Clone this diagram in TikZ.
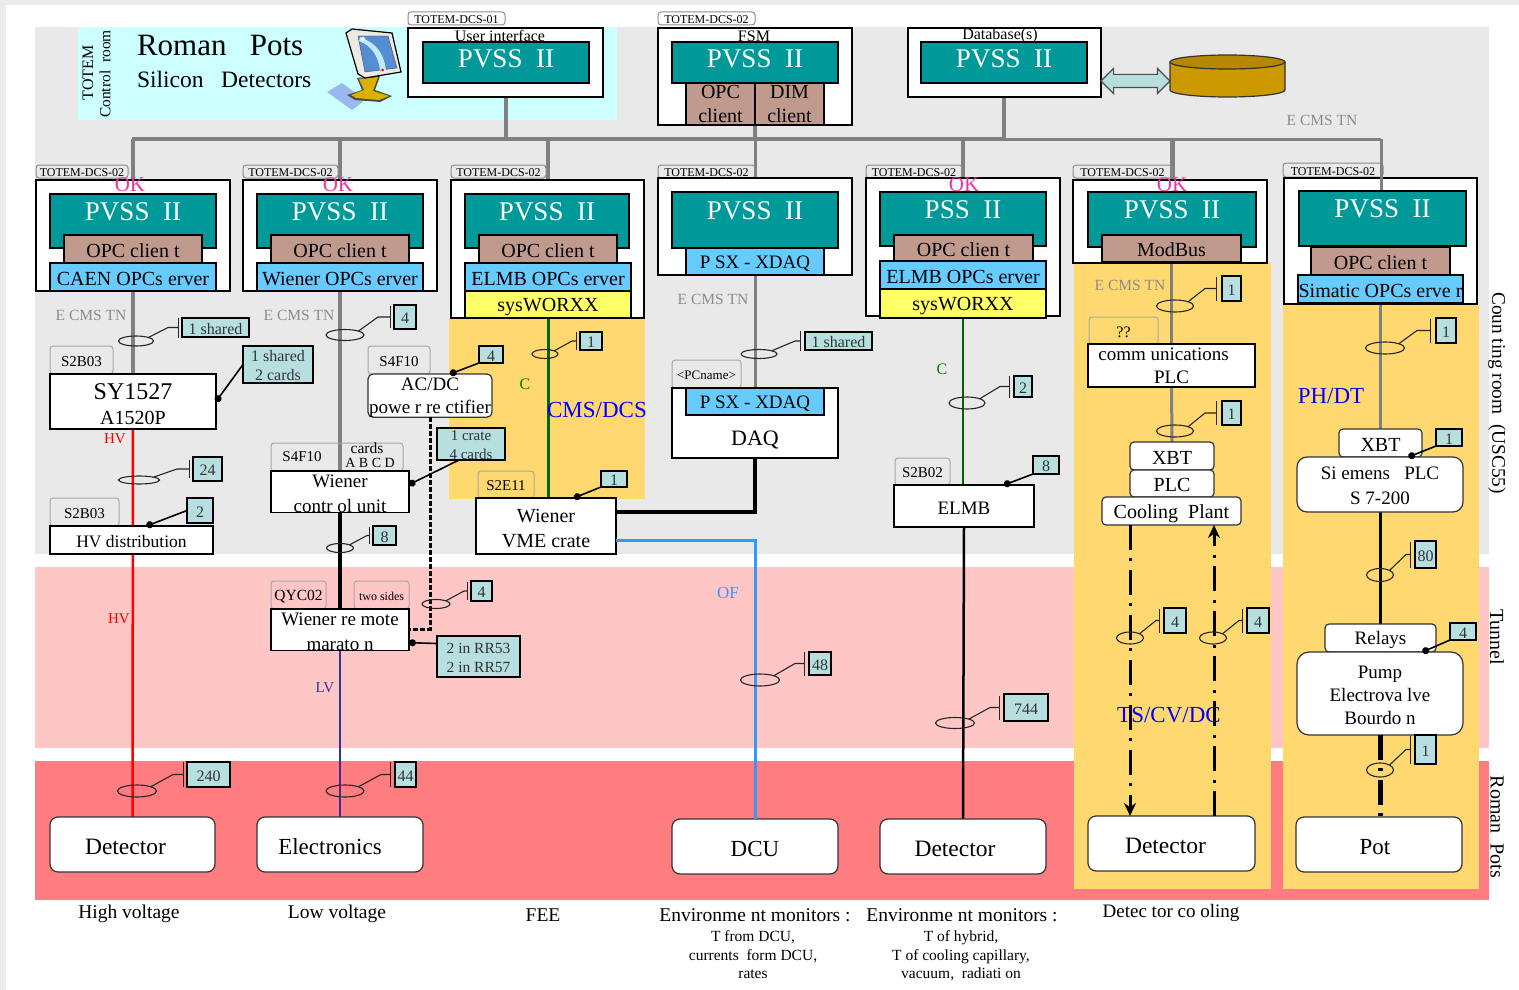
\documentclass[tikz,border=0pt]{standalone}
\usepackage{fontspec}
\setmainfont{Liberation Serif}
\usepackage{xcolor}
\usetikzlibrary{shapes.geometric, shapes.arrows, arrows.meta, positioning, calc, backgrounds}

\definecolor{cgrey}{HTML}{E9E9E9}
\definecolor{cpink}{HTML}{FFC6C6}
\definecolor{cred}{HTML}{FF7C80}
\definecolor{ccyan}{HTML}{CCFFFF}
\definecolor{cgold}{HTML}{FFD96F}
\definecolor{cteal}{HTML}{009999}
\definecolor{cbrown}{HTML}{C19A8E}
\definecolor{csky}{HTML}{66CCFF}
\definecolor{cyell}{HTML}{FFFF66}
\definecolor{ccnt}{HTML}{B7DFE0}
\definecolor{cfibre}{HTML}{3399FF}
\definecolor{clv}{HTML}{333399}
\definecolor{cgreen}{HTML}{006600}
\definecolor{cdisk}{HTML}{CC9900}
\definecolor{cdiskt}{HTML}{B58800}
\definecolor{cshade}{HTML}{99B8F0}
\newcommand{\fsz}[2]{\fontsize{#1}{#2}\selectfont}
\newcommand{\lowa}{\rule{0pt}{.85em}}
\newcommand{\lowb}{\rule{0pt}{.95em}}

\begin{document}
\begin{tikzpicture}[
        x=1pt, y=-1pt,
        wh/.style 2 args={minimum width=#1pt, minimum height=#2pt},
        box/.style={rectangle, draw=black, line width=1.2pt, inner sep=0pt, outer sep=0pt, anchor=north west, align=center, execute at begin node={\lowa}},
        card/.style={box, fill=white},
        rnd/.style={box, fill=white, rounded corners=8pt, draw=black!80},
        pvss/.style={box, fill=cteal, text=white, font=\fsz{27}{30}, text height=26pt, text depth=28pt},
        opc/.style={box, fill=cbrown, font=\fsz{20}{24}},
        srv/.style={box, fill=csky, font=\fsz{20}{24}},
        sysw/.style={box, fill=cyell, font=\fsz{20}{24}, execute at begin node={\lowb}},
        tag/.style={box, draw=black!35, rounded corners=3pt, line width=1pt, font=\fsz{15}{17}},
        dcs/.style={tag, draw=black!45, font=\fsz{12}{13}},
        cnt/.style={box, fill=ccnt, font=\fsz{16}{19}, text=black!80},
        txt/.style={inner sep=0pt, outer sep=0pt, align=center},
        blu/.style={txt, text=blue, font=\fsz{23}{25}},
        oktxt/.style={txt, text=magenta!80!white, font=\fsz{21}{22}},
        ecms/.style={txt, text=black!45, font=\fsz{15.5}{17}},
        ring/.style={ellipse, draw=black!85, line width=1.1pt, inner sep=0pt, outer sep=0pt},
        lead/.style={-{Bar[width=#1]}, draw=black!85, line width=1.1pt},
        dlead/.style={{Circle[length=7pt]}-, line width=1.6pt},
        bus/.style={draw=black!50, line width=4pt},
        net/.style={draw=black!50, line width=3.5pt},
        blk/.style={draw=black, line width=4pt},
        dashdot/.style={draw=black, line width=3pt, dash pattern=on 25pt off 8pt on 3pt off 9pt}
    ]
        \useasboundingbox (0,0) rectangle (1519,990);

        % Zones
        \begin{scope}[on background layer]
        \fill[black!8] (0,0) rectangle (1519,5);
        \fill[black!8] (0,0) rectangle (6,990);
        \fill[cgrey] (35,27) rectangle (1489,554);
        \fill[cpink] (35,567) rectangle (1489,748);
        \fill[cred] (35,761) rectangle (1489,900);
        \fill[ccyan] (78,27) rectangle (617,120);
        \fill[cgold] (449,318) rectangle (645,499);
        \fill[cgold] (1074,262) rectangle (1271,889);
        \fill[cgold] (1283,304) rectangle (1479,889);
        \end{scope}

        % Title
        \node[txt, rotate=90, font=\fsz{16}{18}] (ttotem) at (88,73) {TOTEM};
        \node[txt, rotate=90, font=\fsz{15.5}{17}] (tctrl) at (105,74) {Control\ \ room};
        \node[txt, anchor=west, font=\fsz{31}{33}] (troman) at (137,46) {Roman\ \ \ Pots};
        \node[txt, anchor=west, font=\fsz{23.5}{25}] (tsilicon) at (137,79) {Silicon\ \ \ Detectors};

        % Monitor
        \fill[cshade] (327,92) -- (342,83) -- (365,100) -- (352,110) -- cycle;
        \fill[black!80!yellow] (357,78) -- (380,76) -- (375,90) -- (392,96) -- (380,102) -- (355,100) -- (347,95) -- (362,90) -- cycle;
        \fill[cdisk!75!yellow] (359,79) -- (378,77) -- (373,91) -- (389,96) -- (379,100) -- (356,98) -- (351,95) -- (364,90) -- cycle;
        \filldraw[fill=yellow!25!black!12!white, draw=black, line width=1.2pt] (346,33) -- (352,29) -- (392,33) -- (401,72) -- (365,78) -- (358,74) -- cycle;
        \filldraw[fill=cyan!50!blue!70!white, draw=black!70] (358,36) -- (388,36) -- (397,68) -- (365,72) -- cycle;
        \fill[cyan!25!white] (360,37) .. controls (378,44) and (384,55) .. (386,70) -- (380,70) .. controls (378,56) and (372,46) .. (359,41) -- cycle;
        \fill[white] (363,39) circle (2);
        \fill[red] (382.5,70) circle (1.5);

        % Top row
        \node[dcs, wh={97}{13}] (t01) at (408,12) {TOTEM-DCS-01};
        \node[card, wh={195}{69}] (ui) at (408,28) {};
        \node[txt, font=\fsz{16}{19}] (tui) at (500,36) {User interface};
        \node[pvss, wh={166}{41}, text depth=15pt] (pui) at (423,42) {PVSS\ \ II};

        \node[dcs, wh={97}{13}] (t02) at (658,12) {TOTEM-DCS-02};
        \node[card, wh={194}{97}] (fsm) at (658,28) {};
        \node[txt, font=\fsz{16}{19}] (tfsm) at (754,36) {FSM};
        \node[pvss, wh={166}{41}, text depth=15pt] (pfsm) at (672,42) {PVSS\ \ II};
        \node[opc, wh={69}{42}] (oc) at (686,83) {OPC\\client};
        \node[opc, wh={69}{42}] (dc) at (755,83) {DIM\\client};

        \node[card, wh={193}{69}] (dbs) at (908,28) {};
        \node[txt, font=\fsz{16}{19}] (tdbs) at (1000,36) {Database(s)};
        \node[pvss, wh={166}{41}, text depth=15pt] (pdb) at (921,42) {PVSS\ \ II};
        \node[double arrow, draw=black!70, line width=1.2pt, fill=ccnt, inner sep=6pt, minimum width=25pt, minimum height=69pt, double arrow head extend=6pt] (dbarrow) at (1135.5,81) {};

        % Disk
        \filldraw[fill=cdisk, draw=black!80, line width=1.2pt] (1170,62) -- (1170,90) arc[start angle=180, end angle=360, x radius=57.5pt, y radius=7pt] -- (1285,62);
        \filldraw[fill=cdiskt, draw=black!80, line width=1.2pt] (1227.5,62) ellipse [x radius=57.5pt, y radius=7pt];

        % Crate columns
        \node[dcs, wh={92}{13}] (t1) at (36,165) {TOTEM-DCS-02};
        \node[card, wh={194}{111}] (w1) at (36,180) {};
        \node[pvss, wh={166}{54}] (p1) at (50,194) {PVSS\ \ II};
        \node[opc, wh={138}{28}] (c1) at (64,235) {OPC clien t};
        \node[srv, wh={166}{28}] (s1) at (50,263) {CAEN OPCs erver};

        \node[dcs, wh={95}{13}] (t2) at (243,165) {TOTEM-DCS-02};
        \node[card, wh={194}{111}] (w2) at (243,180) {};
        \node[pvss, wh={166}{54}] (p2) at (257,194) {PVSS\ \ II};
        \node[opc, wh={138}{28}] (c2) at (271,235) {OPC clien t};
        \node[srv, wh={166}{28}] (s2) at (257,263) {Wiener OPCs erver};

        \node[dcs, wh={95}{13}] (t3) at (451,165) {TOTEM-DCS-02};
        \node[card, wh={193}{138}] (w3) at (451,180) {};
        \node[pvss, wh={164}{54}] (p3) at (465,194) {PVSS\ \ II};
        \node[opc, wh={138}{28}] (c3) at (479,235) {OPC clien t};
        \node[srv, wh={166}{28}] (s3) at (465,263) {ELMB OPCs erver};
        \node[sysw, wh={166}{27}] (y3) at (465,291) {sysWORXX};

        \node[dcs, wh={97}{13}] (t4) at (658,165) {TOTEM-DCS-02};
        \node[card, wh={194}{97}] (w4) at (658,178) {};
        \node[pvss, wh={166}{56}] (p4) at (672,192) {PVSS\ \ II};
        \node[srv, wh={138}{27}, font=\fsz{19}{22}, execute at begin node={\lowb}] (s4) at (686,248) {P SX - XDAQ};

        \node[dcs, wh={96}{13}] (t5) at (866,165) {TOTEM-DCS-02};
        \node[card, wh={194}{138}] (w5) at (866,178) {};
        \node[pvss, wh={166}{54}] (p5) at (880,192) {PSS\ \ II};
        \node[opc, wh={139}{26}] (c5) at (894,235) {OPC clien t};
        \node[srv, wh={166}{28}] (s5) at (880,261) {ELMB OPCs erver};
        \node[sysw, wh={166}{29}] (y5) at (880,289) {sysWORXX};

        \node[dcs, wh={99}{13}] (t6) at (1073,165) {TOTEM-DCS-02};
        \node[card, wh={194}{83}] (w6) at (1073,180) {};
        \node[pvss, wh={168}{55}] (p6) at (1088,192) {PVSS\ \ II};
        \node[opc, wh={139}{27}] (c6) at (1102,235) {ModBus};

        \node[dcs, wh={100}{14}] (t7) at (1283,163) {TOTEM-DCS-02};
        \node[card, wh={193}{126}] (w7) at (1284,178) {};
        \coordinate (busl) at (132,139);
        \coordinate (busr) at (1381,139);
        \draw[net, line width=3pt] (busr) -- (busr |- 0,192);
        \node[pvss, wh={167}{55}] (p7) at (1299,191) {PVSS\ \ II};
        \node[opc, wh={139}{28}] (c7) at (1311,247) {OPC clien t};
        \node[srv, wh={165}{28}] (s7) at (1298,275) {Simatic OPCs erve r};

        % OK marks
        \node[oktxt] (ok1) at (130,185) {OK};
        \node[oktxt] (ok2) at (338,185) {OK};
        \node[oktxt] (ok5) at (964,185) {OK};
        \node[oktxt] (ok6) at (1172,185) {OK};

        % High voltage
        \node[tag, wh={63}{28}] (a1) at (50,346) {S2B03};
        \node[card, wh={166}{55}, font=\fsz{24}{25}] (sy) at (50,374) {\lowa SY1527\\{\fsz{20}{24}A1520P}};
        \node[tag, wh={69}{28}] (a2) at (50,498) {S2B03};
        \node[card, wh={163}{28}, font=\fsz{17.5}{19}] (hvd) at (50,526) {HV distribution};
        \node[rnd, wh={165}{55}, font=\fsz{23.5}{25}] (det1) at (50,817) {Detector\kern14pt};

        % Low voltage
        \node[tag, wh={62}{28}] (a3) at (368,346) {S4F10};
        \node[rnd, wh={124}{42}, font=\fsz{19}{23}, rounded corners=5pt] (acdc) at (368,374) {\lowa AC/DC\\powe r re ctifier};
        \node[tag, wh={132}{28}] (a4) at (271,443) {};
        \node[txt, font=\fsz{15}{17}] (ta4) at (302,457) {S4F10};
        \node[txt, font=\fsz{15.5}{17}] (ca4) at (367,448) {cards};
        \node[txt, font=\fsz{14}{16}] (da4) at (370,463) {A B C D};
        \node[card, wh={138}{41}, font=\fsz{19}{25}] (wcu) at (271,471) {\lowa Wiener\\contr ol unit};
        \node[tag, wh={55}{28}, font=\fsz{15.5}{17}] (a5) at (271,581) {QYC02};
        \node[tag, wh={55}{28}, font=\fsz{12}{14}] (a6) at (354,581) {two sides};
        \node[card, wh={138}{41}, font=\fsz{19}{25}] (wrm) at (271,609) {\lowa Wiener re mote\\marato n};
        \node[rnd, wh={166}{55}, font=\fsz{23}{25}] (ele) at (257,817) {Electronics\kern20pt};

        % FEE
        \node[tag, wh={56}{27}] (a7) at (478,471) {S2E11};
        \node[card, wh={140}{56}, font=\fsz{20}{25}] (vme) at (476,498) {\lowb Wiener\\VME crate};

        % DAQ
        \node[tag, wh={69}{28}, font=\fsz{13}{15}] (a8) at (672,360) {<PCname>};
        \node[card, wh={166}{70}, font=\fsz{22}{24}, text height=48pt, text depth=4pt] (daq) at (672,388) {DAQ};
        \node[srv, wh={138}{27}, font=\fsz{19}{22}, execute at begin node={\lowb}] (sdaq) at (686,388) {P SX - XDAQ};
        \node[rnd, wh={166}{55}, font=\fsz{23}{25}] (dcu) at (672,819) {DCU};

        % ELMB
        \node[tag, wh={55}{27}] (a9) at (895,458) {S2B02};
        \node[card, wh={140}{42}, font=\fsz{19}{21}] (elmb) at (894,485) {ELMB};
        \node[rnd, wh={166}{55}, font=\fsz{23.5}{25}] (det2) at (880,819) {Detector\kern16pt};

        % Cooling
        \node[tag, wh={69}{27}, font=\fsz{16}{18}] (a10) at (1089,317) {??};
        \node[card, wh={167}{43}, font=\fsz{19}{23}] (comm) at (1088,344) {comm unications\kern16pt\\PLC};
        \node[rnd, wh={84}{28}, font=\fsz{20}{22}, rounded corners=4pt] (xbt1) at (1130,442) {XBT};
        \node[rnd, wh={84}{27}, font=\fsz{20}{22}, rounded corners=4pt] (plc) at (1130,470) {PLC};
        \node[rnd, wh={139}{28}, font=\fsz{20}{22}, rounded corners=4pt, execute at begin node={\lowb}] (cool) at (1102,497) {Cooling\ \ Plant};
        \node[rnd, wh={167}{55}, font=\fsz{23.5}{25}] (det3) at (1088,816) {Detector\kern12pt};

        % Pot
        \node[rnd, wh={83}{28}, font=\fsz{20}{22}, rounded corners=4pt] (xbt2) at (1339,429) {XBT};
        \node[rnd, wh={111}{28}, font=\fsz{19}{21}, rounded corners=4pt, execute at begin node={\lowb}] (rel) at (1325,624) {Relays};
        \node[rnd, wh={166}{55}, font=\fsz{19}{25}, rounded corners=10pt] (sie) at (1297,457) {\lowa Si emens\ \ \ PLC\\S 7-200};
        \node[rnd, wh={166}{83}, font=\fsz{19}{23}, rounded corners=12pt] (pmp) at (1297,652) {\lowa Pump\\Electrova lve\\Bourdo n};
        \node[rnd, wh={166}{55}, font=\fsz{23}{25}] (pot) at (1296,817) {Pot\kern8pt};

        % Bus and network lines
        \begin{scope}[on background layer]
        \draw[bus] (busl) -- (pdb.south |- busl);
        \draw[net, line width=3pt] (pdb.south |- busl) -- (busr);
        \draw[bus] (ui.south) -- (ui.south |- busl);
        \draw[bus] (dc.south west) -- (dc.south west |- busl);
        \draw[bus] (pdb.south) -- (pdb.south |- busl);
        \draw[bus] (w1.north) -- (w1.north |- busl);
        \draw[bus] (w2.north) -- (w2.north |- busl);
        \draw[bus] (w3.north) -- (w3.north |- busl);
        \draw[net, line width=3pt] (w4.north) -- (w4.north |- busl);
        \draw[bus] (w5.north) -- (w5.north |- busl);
        \draw[bus, line width=5pt] (1172,180) -- (1172,139);
        \draw[net] (s1.south) -- (sy.north);
        \draw[net] (s2.south) -- (wcu.north);
        \draw[net, line width=3pt] (s4.south) -- (sdaq.north);
        \draw[net, line width=3pt] (c6.south) -- (comm.north);
        \draw[net, line width=3pt] (comm.south) -- (xbt1.north);
        \draw[net] (s7.south -| xbt2.north) -- (xbt2.north);
        \draw[draw=red, line width=2.5pt] (sy.south) -- (det1.north);
        \draw[blk] (wcu.south) -- (wrm.north);
        \draw[draw=clv, line width=2.2pt] (wrm.south) -- (ele.north);
        \draw[draw=cgreen, line width=3pt] (y3.south) -- (y3.south |- vme.north);
        \draw[draw=cgreen, line width=2.2pt] (y5.south) -- (y5.south |- elmb.north);
        \draw[draw=black, line width=2.5pt] (elmb.south) -- (det2.north);
        \draw[draw=black, line width=3pt] (sie.south -| xbt2.south) -- (rel.north);
        \end{scope}
        \draw[blk] ([yshift=14pt]vme.east) -| (daq.south);
        \draw[draw=cfibre, line width=3pt] ([yshift=-14pt]vme.east) -| (dcu.north);
        \draw[line width=3pt, dash pattern=on 5pt off 2pt] (acdc.south) |- (wrm.east);
        \draw[dashdot, -{Stealth[length=13pt, width=12pt]}] (xbt1.south west |- cool.south) -- (xbt1.south west |- det3.north);
        \draw[dashdot, -{Stealth[length=13pt, width=12pt]}] (xbt1.south east |- det3.north) -- (xbt1.south east |- cool.south);
        \draw[dashdot, line width=5pt] (pmp.south -| xbt2.south) -- (pot.north -| xbt2.south);

        % Line labels
        \node[ecms] (e1) at (91,315) {E CMS TN};
        \node[ecms] (e2) at (299,315) {E CMS TN};
        \node[ecms] (e4) at (713,299) {E CMS TN};
        \node[ecms] (e6) at (1130,285) {E CMS TN};
        \node[ecms] (e0) at (1322,120) {E CMS TN};
        \node[txt, text=red, font=\fsz{15}{17}] (hv1) at (115,439) {HV};
        \node[txt, text=red, font=\fsz{15}{17}] (hv2) at (119,619) {HV};
        \node[txt, text=clv, font=\fsz{15}{17}] (lv) at (325,688) {LV};
        \node[txt, text=cfibre, font=\fsz{17}{19}] (of) at (728,593) {OF};
        \node[txt, text=green!50!black, font=\fsz{16}{18}] (cc3) at (525,384) {C};
        \node[txt, text=green!50!black, font=\fsz{16}{18}] (cc5) at (942,369) {C};
        \node[blu] (cms) at (597,410) {CMS/DCS};
        \node[blu] (phdt) at (1331,396) {PH/DT};
        \node[blu] (tscv) at (1169,715) {TS/CV/DC};

        % Cable counts
        \node[ring, wh={35}{10}] (r1) at (136,341) {};
        \node[cnt, wh={67}{19}] (n1) at (182,318) {1 shared};
        \draw[lead=20pt] (r1.north east) -- ([xshift=-14pt]n1.west) -- ([xshift=-3pt]n1.west);

        \node[ring, wh={38}{11}] (r2) at (345,335) {};
        \node[cnt, wh={22}{24}] (n2) at (394,305) {4};
        \draw[lead=22pt] (r2.north east) -- ([xshift=-16pt]n2.west) -- ([xshift=-3pt]n2.west);

        \node[ring, wh={41}{8}] (r3) at (139,480) {};
        \node[cnt, wh={29}{24}] (n3) at (193,457) {24};
        \draw[lead=18pt] (r3.north east) -- ([xshift=-16pt]n3.west) -- ([xshift=-3pt]n3.west);

        \node[ring, wh={27}{9}] (r4) at (340,548) {};
        \node[cnt, wh={23}{19}] (n4) at (373,526) {8};
        \draw[lead=17pt] (r4.north east) -- ([xshift=-6pt]n4.west) -- ([xshift=-3pt]n4.west);

        \node[ring, wh={28}{9}] (r5) at (436,604) {};
        \node[cnt, wh={21}{20}] (n5) at (471,581) {4};
        \draw[lead=18pt] (r5.north east) -- ([xshift=-7pt]n5.west) -- ([xshift=-3pt]n5.west);

        \node[ring, wh={26}{9}] (r6) at (545,354) {};
        \node[cnt, wh={22}{18}] (n6) at (580,332) {1};
        \draw[lead=18pt] (r6.north east) -- ([xshift=-8pt]n6.west) -- ([xshift=-3pt]n6.west);

        \node[ring, wh={36}{9}] (r7) at (759,354) {};
        \node[cnt, wh={67}{18}] (n7) at (805,332) {1 shared};
        \draw[lead=20pt] (r7.north east) -- ([xshift=-10pt]n7.west) -- ([xshift=-4pt]n7.west);

        \node[ring, wh={39}{12}] (r8) at (760,680) {};
        \node[cnt, wh={22}{23}] (n8) at (809,652) {48};
        \draw[lead=24pt] (r8.north east) -- ([xshift=-14pt]n8.west) -- ([xshift=-4pt]n8.west);

        \node[ring, wh={36}{12}] (r9) at (967,403) {};
        \node[cnt, wh={18}{21}] (n9) at (1014,376) {2};
        \draw[lead=22pt] (r9.north east) -- ([xshift=-14pt]n9.west) -- ([xshift=-4pt]n9.west);

        \node[ring, wh={39}{11}] (r10) at (955,723) {};
        \node[cnt, wh={44}{27}] (n10) at (1004,694) {744};
        \draw[lead=24pt] (r10.north east) -- ([xshift=-14pt]n10.west) -- ([xshift=-4pt]n10.west);

        \node[ring, wh={37}{12}] (r11) at (1175,306) {};
        \node[cnt, wh={19}{25}] (n11) at (1222,276) {1};
        \draw[lead=24pt] (r11.north east) -- ([xshift=-17pt]n11.west) -- ([xshift=-5pt]n11.west);

        \node[ring, wh={37}{12}] (r12) at (1175,431) {};
        \node[cnt, wh={19}{24}] (n12) at (1222,401) {1};
        \draw[lead=24pt] (r12.north east) -- ([xshift=-17pt]n12.west) -- ([xshift=-5pt]n12.west);

        \node[ring, wh={27}{12}] (r13) at (1130,638) {};
        \node[cnt, wh={22}{25}] (n13) at (1164,608) {4};
        \draw[lead=24pt] (r13.north east) -- ([xshift=-8pt]n13.west) -- ([xshift=-4pt]n13.west);

        \node[ring, wh={27}{12}] (r14) at (1213,638) {};
        \node[cnt, wh={22}{25}] (n14) at (1247,608) {4};
        \draw[lead=24pt] (r14.north east) -- ([xshift=-8pt]n14.west) -- ([xshift=-4pt]n14.west);

        \node[ring, wh={39}{12}] (r15) at (1385,348) {};
        \node[cnt, wh={20}{25}] (n15) at (1436,318) {1};
        \draw[lead=24pt] (r15.north east) -- ([xshift=-19pt]n15.west) -- ([xshift=-5pt]n15.west);

        \node[ring, wh={27}{13}] (r16) at (1380,575) {};
        \node[cnt, wh={21}{27}] (n16) at (1415,541) {80};
        \draw[lead=26pt] (r16.north east) -- ([xshift=-9pt]n16.west) -- ([xshift=-4pt]n16.west);

        \node[ring, wh={27}{14}] (r17) at (1380,770) {};
        \node[cnt, wh={21}{29}] (n17) at (1415,735) {1};
        \draw[lead=28pt] (r17.north east) -- ([xshift=-9pt]n17.west) -- ([xshift=-4pt]n17.west);

        \node[ring, wh={39}{12}] (r18) at (137,791) {};
        \node[cnt, wh={43}{25}] (n18) at (187,762) {240};
        \draw[lead=25pt] (r18.north east) -- ([xshift=-14pt]n18.west) -- ([xshift=-3pt]n18.west);

        \node[ring, wh={38}{12}] (r19) at (345,791) {};
        \node[cnt, wh={21}{25}] (n19) at (395,762) {44};
        \draw[lead=25pt] (r19.north east) -- ([xshift=-14pt]n19.west) -- ([xshift=-4pt]n19.west);

        % Pinned counts
        \node[cnt, wh={70}{37}] (m1) at (243,346) {\lowa 1 shared\\2 cards};
        \draw[dlead] (sy.east) -- (m1.west);
        \node[cnt, wh={26}{25}] (m2) at (187,498) {2};
        \draw[dlead] ([xshift=15pt]hvd.north) -- (m2.west);
        \node[cnt, wh={24}{17}] (m3) at (479,346) {4};
        \draw[dlead] ([xshift=20pt]acdc.north) -- (m3.south west);
        \node[cnt, wh={68}{32}, font=\fsz{15}{19}] (m4) at (437,428) {\lowa 1 crate\\4 cards};
        \draw[dlead] ([yshift=7pt]wcu.east) -- ([xshift=-12pt]m4.south);
        \node[cnt, wh={26}{16}] (m5) at (601,471) {1};
        \draw[dlead] ([xshift=28pt]vme.north) -- (m5.south west);
        \node[cnt, wh={26}{18}] (m6) at (1033,456) {8};
        \draw[dlead] ([xshift=40pt]elmb.north) -- (m6.south west);
        \node[cnt, wh={26}{17}] (m7) at (1436,429) {1};
        \draw[dlead] ([xshift=28pt]xbt2.south) -- (m7.south west);
        \node[cnt, wh={26}{17}] (m8) at (1450,623) {4};
        \draw[dlead] ([xshift=42pt]rel.south) -- (m8.south west);
        \node[cnt, wh={83}{41}, font=\fsz{15.5}{19}] (m9) at (437,636) {\lowa 2 in RR53\\2 in RR57};
        \draw[dlead] ([yshift=-13pt]wrm.east) -- ([yshift=13pt]m9.west);

        % Room names
        \node[txt, rotate=-90, font=\fsz{19.3}{20}] (rcount) at (1497,393) {Coun ting room\ \ (USC55)};
        \node[txt, rotate=-90, font=\fsz{20}{20}] (rtunnel) at (1497,637) {Tunnel};
        \node[txt, rotate=-90, font=\fsz{20}{20}] (rroman) at (1497,827) {Roman\ \ Pots};

        % Bottom captions
        \node[txt, font=\fsz{19.5}{21}] (b1) at (129,914) {High voltage};
        \node[txt, font=\fsz{19.5}{21}] (b2) at (337,914) {Low voltage};
        \node[txt, font=\fsz{19.5}{21}] (b3) at (543,915) {FEE};
        \node[txt, font=\fsz{19.5}{21}] (b4) at (755,915) {Environme nt monitors :};
        \node[txt, font=\fsz{15.5}{18.7}, anchor=north] (b4a) at (753,930.5) {T from DCU,\\currents\ \ form DCU,\\rates};
        \node[txt, font=\fsz{19.5}{21}] (b5) at (962,915) {Environme nt monitors :};
        \node[txt, font=\fsz{15.5}{18.7}, anchor=north] (b5a) at (961,930.5) {T of hybrid,\\T of cooling capillary,\\vacuum,\ \ radiati on};
        \node[txt, font=\fsz{19}{21}] (b6) at (1171,913) {Detec tor co oling};
\end{tikzpicture}
\end{document}
